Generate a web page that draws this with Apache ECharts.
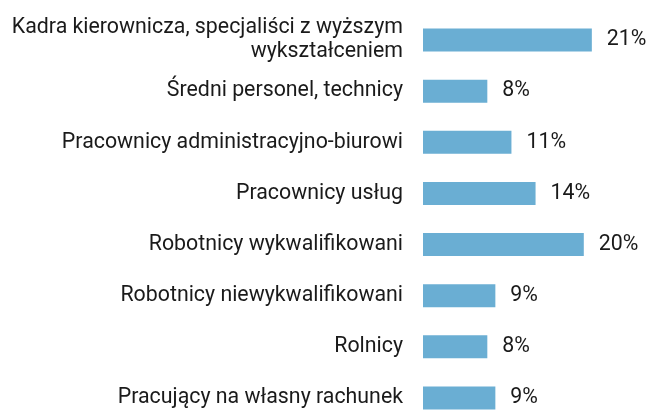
<!DOCTYPE html>
<html lang="pl">
<head>
    <meta charset="UTF-8">
    <script src="https://cdn.jsdelivr.net/npm/echarts@6/dist/echarts.min.js"></script>
    <style type="text/css">
        html, body { margin: 0; padding: 0; background: #fff; }
        #main { width: 649px; height: 410px; }
    </style>
</head>
<body>
<div id="main"></div>
<script type="text/javascript">
    var categories = [
        'Kadra kierownicza, specjaliści z wyższym\nwykształceniem',
        'Średni personel, technicy',
        'Pracownicy administracyjno-biurowi',
        'Pracownicy usług',
        'Robotnicy wykwalifikowani',
        'Robotnicy niewykwalifikowani',
        'Rolnicy',
        'Pracujący na własny rachunek'
    ];
    var values = [21, 8, 11, 14, 20, 9, 8, 9];

    var myChart = echarts.init(document.getElementById('main'));
    // boundaryGap false: pierwsza i ostatnia kategoria na krawędziach siatki
    var option = {
        backgroundColor: '#fff',
        animation: false,
        textStyle: { fontFamily: 'Roboto' },
        grid: { left: 423, top: 40, width: 201, height: 358.4, containLabel: false },
        xAxis: {
            type: 'value',
            min: 0,
            max: 25,
            show: false
        },
        yAxis: {
            type: 'category',
            data: categories,
            inverse: true,
            boundaryGap: false,
            axisLine: { show: false },
            axisTick: { show: false },
            splitLine: { show: false },
            axisLabel: {
                margin: 20,
                fontSize: 21.33,
                lineHeight: 24,
                color: '#1a1a1a',
                fontFamily: 'Roboto'
            }
        },
        series: [{
            type: 'bar',
            data: values,
            barWidth: 23,
            itemStyle: { color: '#6aaed3' },
            label: {
                show: true,
                position: 'right',
                distance: 15,
                formatter: '{c}%',
                fontSize: 21.33,
                color: '#1a1a1a',
                fontFamily: 'Roboto'
            }
        }]
    };
    myChart.setOption(option);
</script>
</body>
</html>
